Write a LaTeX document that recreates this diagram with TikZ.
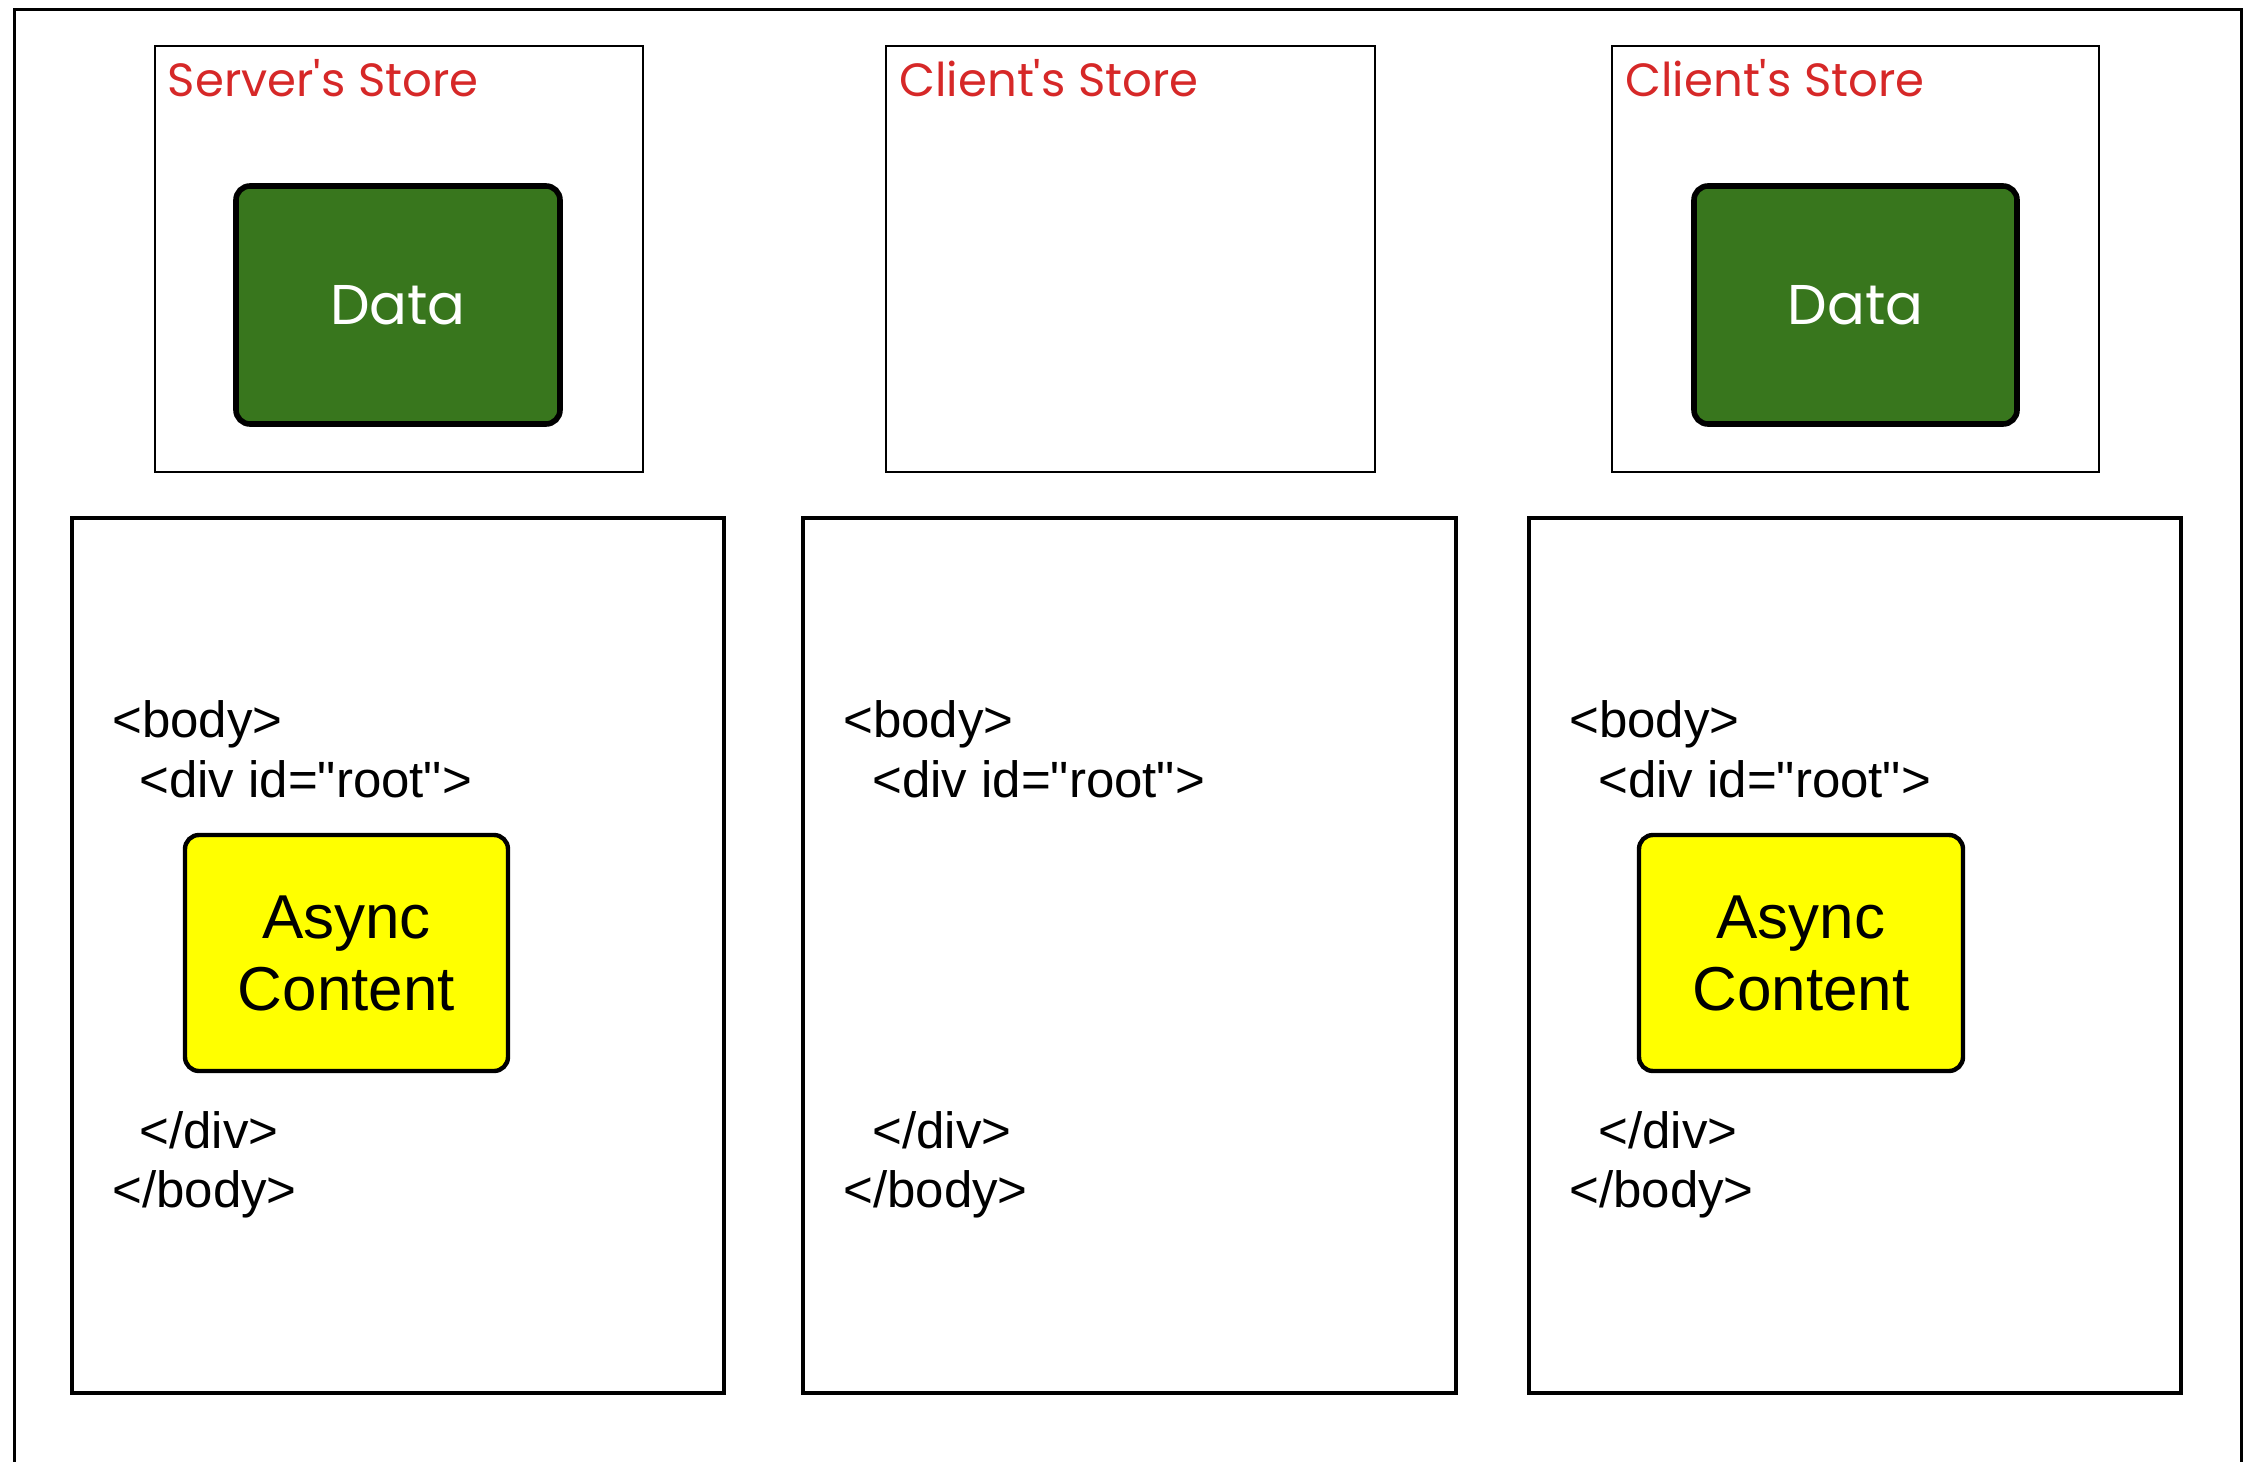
\documentclass[tikz,border=0pt]{standalone}
\usepackage{fontspec}
\setmainfont{Liberation Sans}
\newfontfamily\plainfont{Liberation Sans}
\newfontfamily\roundfont{Poppins}
\definecolor{storered}{RGB}{214,40,40}
\definecolor{datagreen}{RGB}{56,118,29}
\definecolor{asyncyellow}{RGB}{255,255,0}
\begin{document}
\begin{tikzpicture}[x=0.5pt,y=-0.5pt,
  store/.style={draw, line width=1.2pt, inner sep=0pt},
  pagebox/.style={draw, line width=2.4pt, inner sep=0pt},
  databox/.style={draw, line width=2.8pt, fill=datagreen, rounded corners=7pt, text=white, font=\roundfont\fontsize{28}{34}\selectfont},
  asyncbox/.style={draw, line width=2.2pt, fill=asyncyellow, rounded corners=7pt, align=center, font=\plainfont\fontsize{31}{36}\selectfont},
  storelabel/.style={anchor=base west, text=storered, inner sep=0pt, font=\roundfont\fontsize{23.3}{27}\selectfont},
  code/.style={anchor=base west, inner sep=0pt, font=\plainfont\fontsize{25.5}{30}\selectfont}]
\useasboundingbox (0,0) rectangle (2245,1462);
% outer frame
\coordinate (oBL) at (14,1470);
\coordinate (oTL) at (14,9);
\coordinate (oTR) at (2241,9);
\coordinate (oBR) at (2241,1470);
\draw[line width=1.5pt] (oBL) -- (oTL) -- (oTR) -- (oBR);

% stores
\node[store, minimum width=244pt, minimum height=213pt] (s1) at (399,259) {};
\node[store, minimum width=244.5pt, minimum height=213pt] (s2) at (1130.5,259) {};
\node[store, minimum width=243.5pt, minimum height=213pt] (s3) at (1855.5,259) {};
\node[storelabel] (l1) at (167.5,96) {Server's Store};
\node[storelabel] (l2) at (899,96) {Client's Store};
\node[storelabel] (l3) at (1625,96) {Client's Store};
\node[databox, minimum width=162pt, minimum height=119pt] (d1) at (398,305) {Data};
\node[databox, minimum width=161.5pt, minimum height=119pt] (d3) at (1855.5,305) {Data};

% pages
\node[pagebox, minimum width=326pt, minimum height=437.5pt] (p1) at (398,955.5) {};
\node[pagebox, minimum width=326.5pt, minimum height=437.5pt] (p2) at (1129.5,955.5) {};
\node[pagebox, minimum width=326pt, minimum height=437.5pt] (p3) at (1855,955.5) {};

% page 1 content
\node[code] (b1o) at (112,737) {<body>};
\node[code] (v1o) at (139,797) {<div id="root">};
\node[asyncbox, minimum width=161.5pt, minimum height=118pt] (a1) at (346.5,953) {Async\\Content};
\node[code] (v1c) at (139,1148) {</div>};
\node[code] (b1c) at (112,1207) {</body>};

% page 2 content
\node[code] (b2o) at (843,737) {<body>};
\node[code] (v2o) at (872,797) {<div id="root">};
\node[code] (v2c) at (872,1148) {</div>};
\node[code] (b2c) at (843,1207) {</body>};

% page 3 content
\node[code] (b3o) at (1569,737) {<body>};
\node[code] (v3o) at (1598,797) {<div id="root">};
\node[asyncbox, minimum width=162pt, minimum height=118pt] (a3) at (1801,953) {Async\\Content};
\node[code] (v3c) at (1598,1148) {</div>};
\node[code] (b3c) at (1569,1207) {</body>};
\end{tikzpicture}
\end{document}
